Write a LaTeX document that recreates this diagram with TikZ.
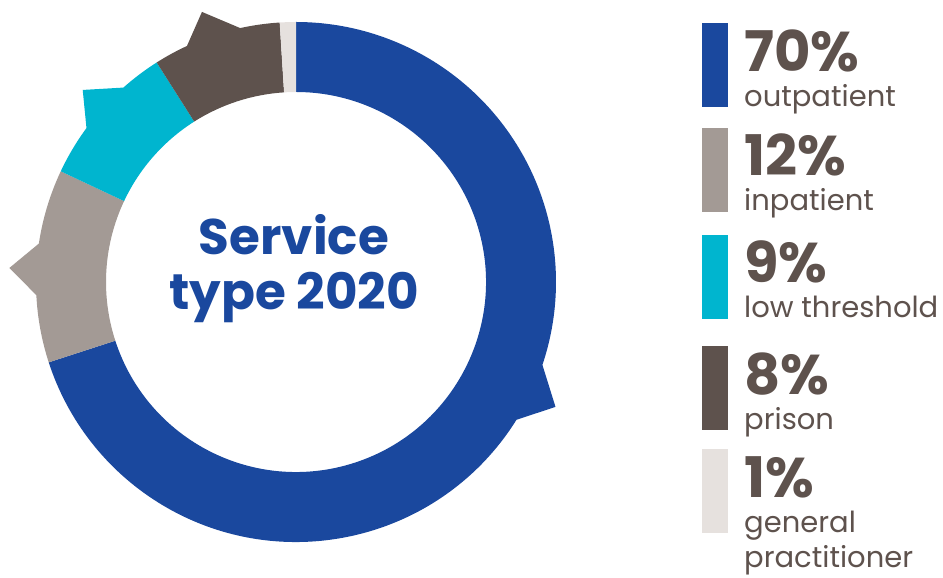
\documentclass[tikz,border=0pt]{standalone}
\usepackage{fontspec}
\setmainfont{Poppins}
\usetikzlibrary{positioning}
\definecolor{outblue}{RGB}{26, 72, 158}
\definecolor{ingray}{RGB}{163, 154, 149}
\definecolor{lowcyan}{RGB}{0, 181, 207}
\definecolor{prisonbrown}{RGB}{94, 82, 77}
\definecolor{gplight}{RGB}{230, 225, 222}
\definecolor{textbrown}{RGB}{94, 82, 77}

\begin{document}
\begin{tikzpicture}[
    x=1pt, y=1pt,
    legendbar/.style={minimum width=26, minimum height=84, inner sep=0pt, anchor=south west},
    pct/.style={font=\fontsize{56}{60}\selectfont\bfseries, text=textbrown, inner sep=0pt, anchor=base west},
    desc/.style={font=\fontsize{29}{35}\selectfont, text=textbrown, inner sep=0pt, anchor=base west, align=left},
    title/.style={font=\fontsize{50}{55}\selectfont\bfseries, text=outblue, align=center, inner sep=0pt}
]
    \useasboundingbox (0,0) rectangle (943,578);

    % Donut segments
    \begin{scope}[shift={(296,296)}]
        \fill[outblue] (90:260) arc[start angle=90, end angle=-18.6, radius=260] -- (-25.7:288) -- (-32:260)
            arc[start angle=-32, end angle=-162, radius=260] -- (-162:190) arc[start angle=-162, end angle=90, radius=190] -- cycle;
        \fill[ingray] (154.8:260) arc[start angle=154.8, end angle=171.5, radius=260] -- (177.2:287) -- (182.9:260)
            arc[start angle=182.9, end angle=198, radius=260] -- (198:190) arc[start angle=198, end angle=154.8, radius=190] -- cycle;
        \fill[lowcyan] (122.4:260) arc[start angle=122.4, end angle=131.6, radius=260] -- (138:287) -- (143.7:260)
            arc[start angle=143.7, end angle=154.8, radius=260] -- (154.8:190) arc[start angle=154.8, end angle=122.4, radius=190] -- cycle;
        \fill[prisonbrown] (93.6:260) arc[start angle=93.6, end angle=102.4, radius=260] -- (109.2:286) -- (114.8:260)
            arc[start angle=114.8, end angle=122.4, radius=260] -- (122.4:190) arc[start angle=122.4, end angle=93.6, radius=190] -- cycle;
        \fill[gplight] (90:260) arc[start angle=90, end angle=93.6, radius=260] -- (93.6:190) arc[start angle=93.6, end angle=90, radius=190] -- cycle;
    \end{scope}

    % Centre title
    \node[title, anchor=base] (title) at (294,268) {Service\\type 2020};

    % Legend
    \node[legendbar, fill=outblue] (barout) at (702,471) {};
    \node[pct] (pctout) at (744,506) {70\%};
    \node[desc] (descout) at (744,471) {outpatient};

    \node[legendbar, fill=ingray] (barin) at (702,366) {};
    \node[pct] (pctin) at (744,402) {12\%};
    \node[desc] (descin) at (744,367) {inpatient};

    \node[legendbar, fill=lowcyan] (barlow) at (702,259) {};
    \node[pct] (pctlow) at (744,295) {9\%};
    \node[desc] (desclow) at (744,260) {low threshold};

    \node[legendbar, fill=prisonbrown] (barprison) at (702,148) {};
    \node[pct] (pctprison) at (744,183) {8\%};
    \node[desc] (descprison) at (744,148) {prison};

    \node[legendbar, fill=gplight] (bargp) at (702,45) {};
    \node[pct] (pctgp) at (744,80) {1\%};
    \node[desc] (descgp) at (744,10) {general\\practitioner};

\end{tikzpicture}
\end{document}
